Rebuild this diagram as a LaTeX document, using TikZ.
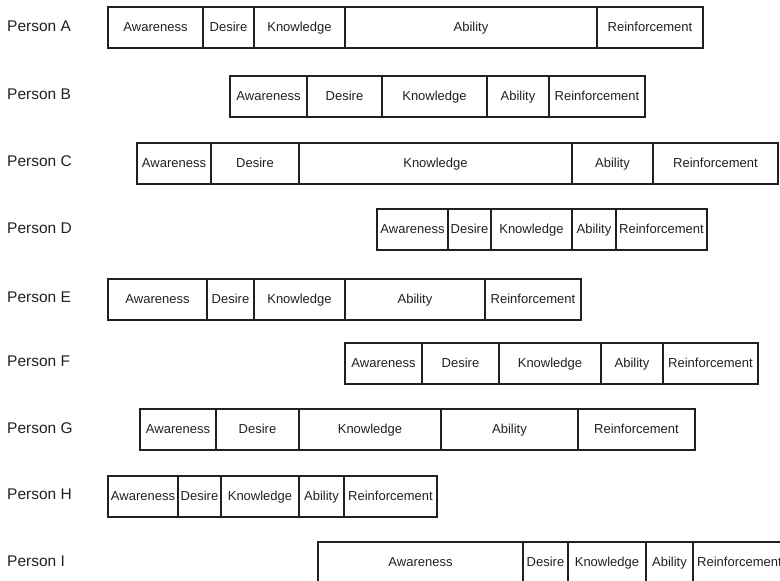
\documentclass[tikz,border=0pt]{standalone}
\usepackage{fontspec}
\setmainfont{Liberation Sans}
\definecolor{ink}{HTML}{231F20}
\tikzset{
  seg/.style={draw=ink, line width=2pt, inner sep=0pt, minimum height=41pt,
    text=ink, text height=0.86em, text depth=0pt,
    font=\fontsize{13}{15}\selectfont},
  who/.style={anchor=west, inner sep=0pt, text=ink,
    text height=0.78em, text depth=0pt,
    font=\fontsize{15.5}{18}\selectfont}
}
% One row of stage segments: #1 row name, #2 top edge, #3 list left/right/label
\newcommand\stagerow[3]{%
  \foreach \l/\r/\t [count=\i] in {#3} {
    \pgfmathsetmacro\segw{\r-\l}
    \node[seg, minimum width=\segw pt] (#1\i) at ({(\l+\r)/2}, {#2+20.5}) {\t};
  }%
}
\begin{document}
\begin{tikzpicture}[x=1pt, y=-1pt]
  \useasboundingbox (0,0) rectangle (780,581);
  \clip (0,0) rectangle (780,581);

  % row labels
  \node[who] (pA) at (7, 27.5)  {Person A};
  \node[who] (pB) at (7, 96)    {Person B};
  \node[who] (pC) at (7, 163)   {Person C};
  \node[who] (pD) at (7, 229.5) {Person D};
  \node[who] (pE) at (7, 299)   {Person E};
  \node[who] (pF) at (7, 363)   {Person F};
  \node[who] (pG) at (7, 429.5) {Person G};
  \node[who] (pH) at (7, 496)   {Person H};
  \node[who] (pI) at (7, 562.5) {Person I};

  % stage bars
  \stagerow{A}{7}{108/203/Awareness, 203/254/Desire, 254/345/Knowledge, 345/597/Ability, 597/703/Reinforcement}
  \stagerow{B}{75.5}{230/307/Awareness, 307/382/Desire, 382/487/Knowledge, 487/549/Ability, 549/645/Reinforcement}
  \stagerow{C}{142.5}{137/211/Awareness, 211/299/Desire, 299/572/Knowledge, 572/653/Ability, 653/778/Reinforcement}
  \stagerow{D}{209}{377/448/Awareness, 448/491/Desire, 491/572/Knowledge, 572/616/Ability, 616/707/Reinforcement}
  \stagerow{E}{278.5}{108/207/Awareness, 207/254/Desire, 254/345/Knowledge, 345/485/Ability, 485/581/Reinforcement}
  \stagerow{F}{342.5}{345/422/Awareness, 422/499/Desire, 499/601/Knowledge, 601/663/Ability, 663/758/Reinforcement}
  \stagerow{G}{409}{140/216/Awareness, 216/299/Desire, 299/441/Knowledge, 441/578/Ability, 578/695/Reinforcement}
  \stagerow{H}{475.5}{108/178/Awareness, 178/221/Desire, 221/299/Knowledge, 299/344/Ability, 344/437/Reinforcement}
  \stagerow{I}{542}{318/523/Awareness, 523/568/Desire, 568/646/Knowledge, 646/693/Ability, 693/786/Reinforcement}
\end{tikzpicture}
\end{document}
